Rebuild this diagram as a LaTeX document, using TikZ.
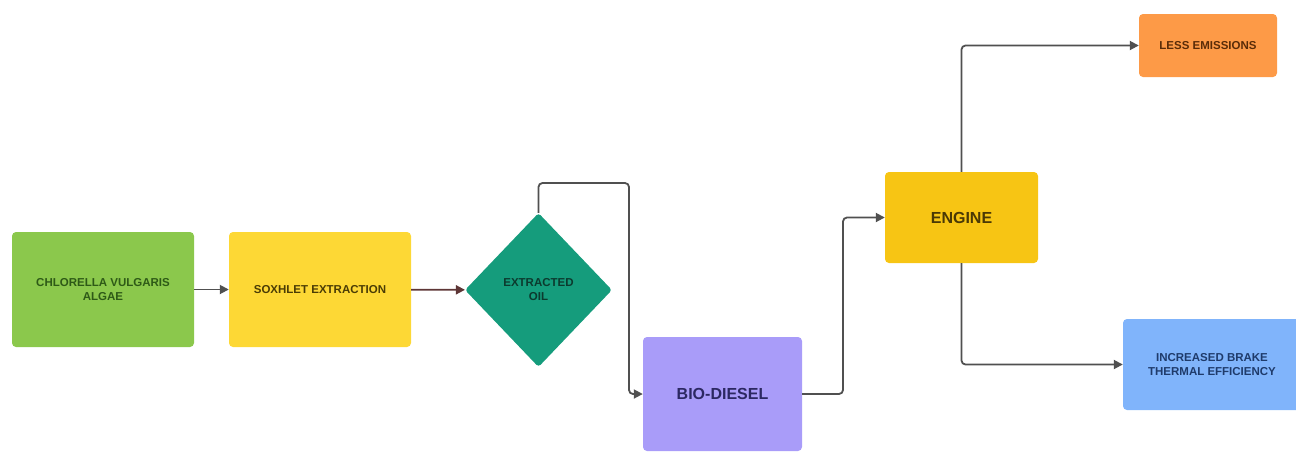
\documentclass[tikz,border=0pt]{standalone}
\usepackage{fontspec}
\setmainfont{Liberation Sans}
\usetikzlibrary{shapes.geometric,arrows.meta}
\definecolor{cgreen}{HTML}{8BC84C}
\definecolor{cyellow}{HTML}{FDD835}
\definecolor{cteal}{HTML}{159C7C}
\definecolor{clav}{HTML}{A99CF9}
\definecolor{cengine}{HTML}{F7C514}
\definecolor{corange}{HTML}{FD9A47}
\definecolor{cblue}{HTML}{80B4FB}
\definecolor{tgreen}{HTML}{2E5A17}
\definecolor{tyellow}{HTML}{4A3C05}
\definecolor{tteal}{HTML}{0C3A2E}
\definecolor{tlav}{HTML}{2C2862}
\definecolor{tengine}{HTML}{4A3905}
\definecolor{torange}{HTML}{5A2C08}
\definecolor{tblue}{HTML}{1F3B6B}
\definecolor{cline}{HTML}{505050}
\definecolor{cred}{HTML}{5E3636}
\tikzset{
  box/.style={rectangle, rounded corners=4pt, inner sep=2pt, align=center},
  small/.style={font=\fontsize{11.5}{14}\selectfont\bfseries},
  big/.style={font=\fontsize{16}{18}\selectfont\bfseries},
  conn/.style={draw=cline, line width=1.8pt, rounded corners=4pt, -{Triangle[length=9pt,width=9pt]}}
}
\begin{document}
\begin{tikzpicture}[x=1pt,y=-1pt]
\useasboundingbox (0,0) rectangle (1296,451);
\node[box, small, fill=cgreen, text=tgreen, minimum width=182pt, minimum height=115pt] (algae) at (103,289.5) {CHLORELLA VULGARIS\\ALGAE};
\node[box, small, fill=cyellow, text=tyellow, minimum width=182pt, minimum height=115pt] (soxhlet) at (320,289.5) {SOXHLET EXTRACTION};
\node[diamond, rounded corners=3pt, small, align=center, fill=cteal, text=tteal, minimum width=147pt, minimum height=154pt, inner sep=0pt] (oil) at (538.5,290) {EXTRACTED\\OIL};
\node[box, big, fill=clav, text=tlav, minimum width=159pt, minimum height=114pt] (bio) at (722.5,394) {BIO-DIESEL};
\node[box, big, fill=cengine, text=tengine, minimum width=153pt, minimum height=91pt] (engine) at (961.5,217.5) {ENGINE};
\node[box, small, fill=corange, text=torange, minimum width=138pt, minimum height=63pt] (less) at (1208,45.5) {LESS EMISSIONS};
\node[box, small, fill=cblue, text=tblue, minimum width=178pt, minimum height=91pt] (inc) at (1212,364.5) {INCREASED BRAKE\\THERMAL EFFICIENCY};
\coordinate (k1) at (629,183);
\coordinate (k2) at (843,300);
\draw[conn] (algae) -- (soxhlet);
\draw[conn, draw=cred] (soxhlet) -- (oil);
\draw[conn] (oil.north) |- (k1) |- (bio.west);
\draw[conn] (bio.east) -- (k2 |- bio.east) -- (k2 |- engine.west) -- (engine.west);
\draw[conn] (engine.north) |- (less.west);
\draw[conn] (engine.south) |- (inc.west);
\end{tikzpicture}
\end{document}
